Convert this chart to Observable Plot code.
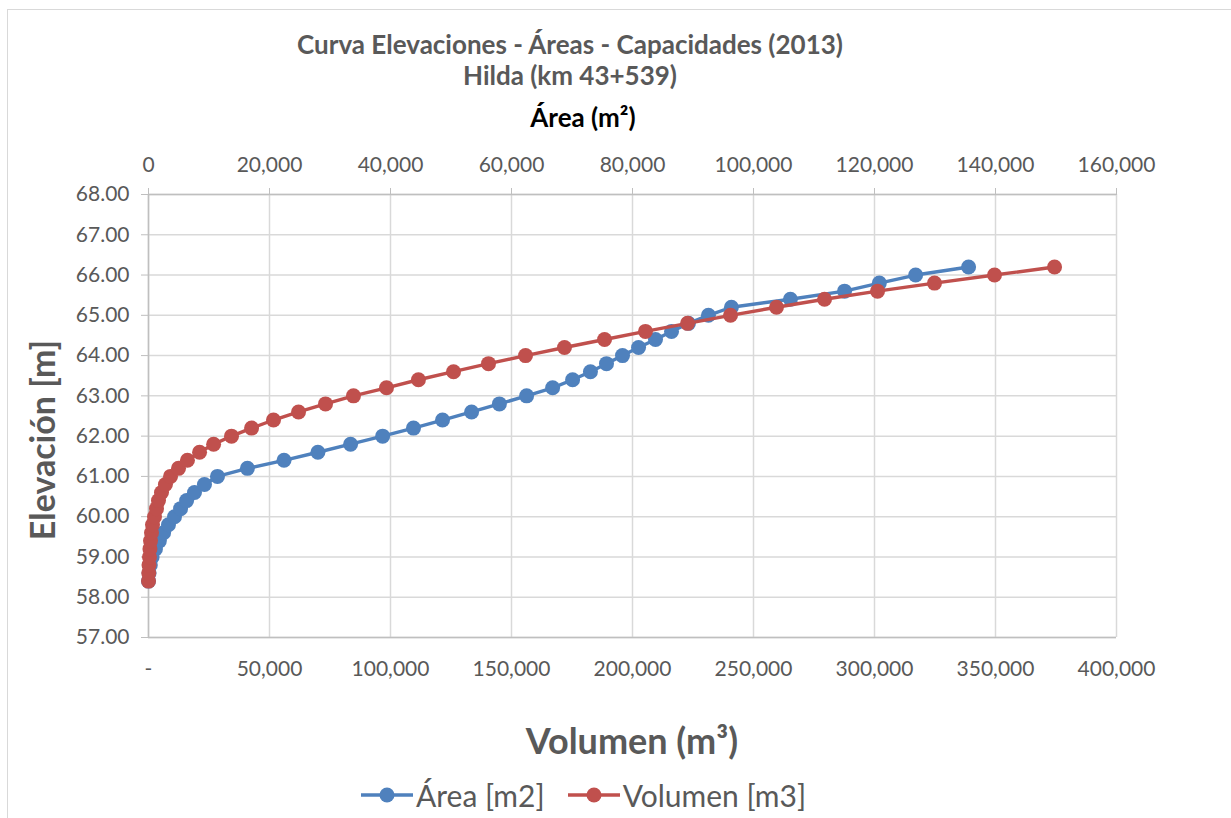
<!DOCTYPE html>
<html>
<head>
<meta charset="utf-8">
<script src="https://cdn.jsdelivr.net/npm/d3@7"></script>
<script src="https://cdn.jsdelivr.net/npm/@observablehq/plot@0.6"></script>
<style>
  html, body { margin: 0; padding: 0; background: #fff; }
  body { width: 1231px; height: 818px; position: relative; overflow: hidden; font-family: Lato, "Open Sans", sans-serif; }
  #frame { position: absolute; left: 7px; top: 9px; width: 1300px; height: 900px; border-left: 1.5px solid #d9d9d9; border-top: 1.5px solid #d9d9d9; }
  #chart { position: absolute; left: 0; top: 0; }
  .t { position: absolute; white-space: nowrap; transform: translate(-50%, -50%); font-weight: bold; color: #595959; }
  #legend { position: absolute; left: 360px; top: 795px; transform: translateY(-50%); display: flex; align-items: center; font-size: 30px; color: #595959; white-space: nowrap; }
  #legend svg { display: block; }
</style>
</head>
<body>
<div id="frame"></div>
<div id="chart"></div>
<div class="t" style="left:570px; top:44px; font-size:26px;">Curva Elevaciones - Áreas - Capacidades (2013)</div>
<div class="t" style="left:570px; top:75px; font-size:26px;">Hilda (km 43+539)</div>
<div class="t" style="left:583px; top:117px; font-size:26px; color:#000;">Área (m²)</div>
<div class="t" style="left:41px; top:440px; font-size:34px; transform: translate(-50%, -50%) rotate(-90deg);">Elevación [m]</div>
<div class="t" style="left:632px; top:740px; font-size:36px;">Volumen (m³)</div>
<div id="legend"></div>
<script>
// Elevation (m)
const elevacion = [58.4, 58.6, 58.8, 59.0, 59.2, 59.4, 59.6, 59.8, 60.0, 60.2,
                   60.4, 60.6, 60.8, 61.0, 61.2, 61.4, 61.6, 61.8, 62.0, 62.2,
                   62.4, 62.6, 62.8, 63.0, 63.2, 63.4, 63.6, 63.8, 64.0, 64.2,
                   64.4, 64.6, 64.8, 65.0, 65.2, 65.4, 65.6, 65.8, 66.0, 66.2];
// Área [m2] (top axis)
const area = [0, 100, 300, 600, 1150, 1800, 2500, 3300, 4300, 5300,
              6300, 7600, 9250, 11400, 16350, 22400, 28000, 33400, 38700, 43800,
              48600, 53400, 58000, 62500, 66800, 70100, 73050, 75700, 78350, 81000,
              83800, 86450, 89250, 92550, 96350, 106100, 115050, 120800, 126800, 135550];
// Volumen [m3] (bottom axis)
const volumen = [0, 100, 200, 400, 600, 830, 1240, 1650, 2480, 3300,
                 4130, 5370, 7000, 9100, 12400, 16100, 21100, 26900, 34300, 42600,
                 51650, 62000, 73150, 84700, 98350, 111550, 126050, 140500, 155800, 171900,
                 188450, 205350, 222750, 240500, 259500, 279350, 301250, 324800, 349600, 374400];

const volTicks = [0, 50000, 100000, 150000, 200000, 250000, 300000, 350000, 400000];
const areaTicks = [0, 20000, 40000, 60000, 80000, 100000, 120000, 140000, 160000];
const elevTicks = [57, 58, 59, 60, 61, 62, 63, 64, 65, 66, 67, 68];

const seriesNames = ["Área [m2]", "Volumen [m3]"];
const seriesColors = ["#4f81bd", "#c0504d"];

// Area axis max 160,000 aligns with volume axis max 400,000
const areaToVol = 400000 / 160000;

const areaData = elevacion.map((e, i) => ({elev: e, v: area[i] * areaToVol}));
const volData = elevacion.map((e, i) => ({elev: e, v: volumen[i]}));

const fmt = d3.format(",");
const axisGray = "#bfbfbf";
const gridGray = "#d9d9d9";
const textGray = "#595959";

const chart = Plot.plot({
  width: 1231,
  height: 818,
  marginLeft: 148,
  marginRight: 115,
  marginTop: 194,
  marginBottom: 181,
  style: {fontFamily: "Lato, 'Open Sans', sans-serif", fontSize: "21px", background: "transparent"},
  x: {domain: [0, 400000]},
  y: {domain: [57, 68]},
  marks: [
    Plot.gridX(volTicks, {stroke: gridGray, strokeOpacity: 1, strokeWidth: 1.5}),
    Plot.gridY(elevTicks, {stroke: gridGray, strokeOpacity: 1, strokeWidth: 1.5}),
    Plot.ruleX([0], {stroke: axisGray, strokeWidth: 1.5}),
    Plot.ruleY([57], {stroke: axisGray, strokeWidth: 1.5}),
    Plot.ruleY([68], {stroke: axisGray, strokeWidth: 1.5}),
    Plot.axisY(elevTicks, {
      anchor: "left", tickSize: 7, tickPadding: 12, stroke: axisGray, fill: textGray,
      tickFormat: d => d.toFixed(2), label: null, fontSize: 21
    }),
    Plot.axisX(volTicks, {
      anchor: "bottom", tickSize: 0, tickPadding: 24, fill: textGray,
      tickFormat: d => d === 0 ? "-" : fmt(d), label: null, fontSize: 21
    }),
    Plot.axisX(volTicks, {
      anchor: "top", tickSize: 7, tickPadding: 16, stroke: axisGray, fill: textGray,
      tickFormat: d => fmt(d / areaToVol), label: null, fontSize: 21
    }),
    Plot.line(areaData, {x: "v", y: "elev", stroke: seriesColors[0], strokeWidth: 3.4}),
    Plot.dot(areaData, {x: "v", y: "elev", r: 7.5, fill: seriesColors[0], stroke: "none"}),
    Plot.line(volData, {x: "v", y: "elev", stroke: seriesColors[1], strokeWidth: 3.4}),
    Plot.dot(volData, {x: "v", y: "elev", r: 7.5, fill: seriesColors[1], stroke: "none"})
  ]
});
document.getElementById("chart").appendChild(chart);

// Legend
const legend = document.getElementById("legend");
seriesNames.forEach((name, i) => {
  const ns = "http://www.w3.org/2000/svg";
  const svg = document.createElementNS(ns, "svg");
  svg.setAttribute("width", 54);
  svg.setAttribute("height", 20);
  const ln = document.createElementNS(ns, "line");
  ln.setAttribute("x1", 1); ln.setAttribute("x2", 53);
  ln.setAttribute("y1", 10); ln.setAttribute("y2", 10);
  ln.setAttribute("stroke", seriesColors[i]); ln.setAttribute("stroke-width", 3.4);
  const c = document.createElementNS(ns, "circle");
  c.setAttribute("cx", 27); c.setAttribute("cy", 10); c.setAttribute("r", 7.5);
  c.setAttribute("fill", seriesColors[i]);
  svg.appendChild(ln); svg.appendChild(c);
  const span = document.createElement("span");
  span.textContent = name;
  span.style.marginLeft = "2px";
  span.style.marginRight = i === 0 ? "22px" : "0";
  legend.appendChild(svg);
  legend.appendChild(span);
});
</script>
</body>
</html>
